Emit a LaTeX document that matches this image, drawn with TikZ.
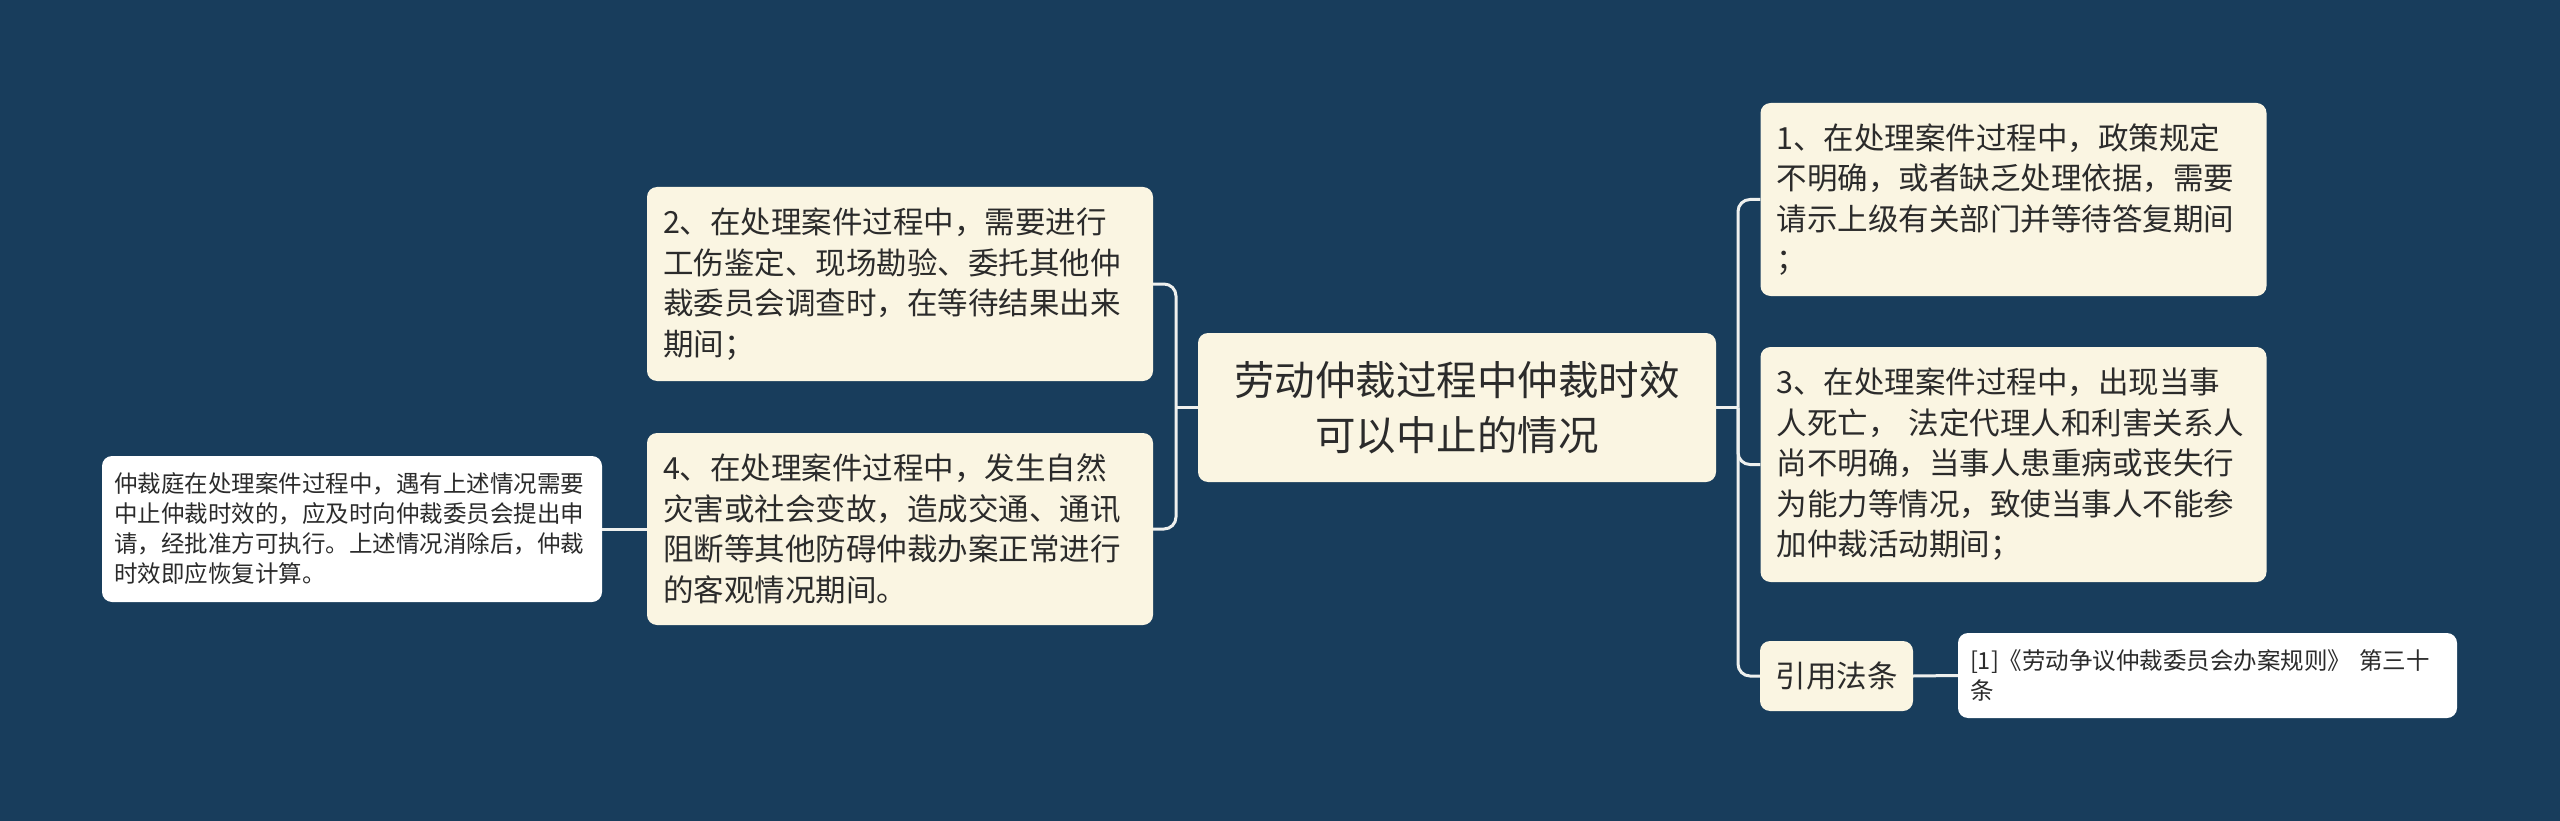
\documentclass[tikz,border=0pt]{standalone}
\usepackage{fontspec}
\setmainfont{Noto Sans CJK SC}
\definecolor{bg}{HTML}{183D5C}
\definecolor{cream}{HTML}{FAF5E2}
\definecolor{leaf}{HTML}{FFFFFF}
\definecolor{txt}{HTML}{2B2B2B}
\definecolor{wire}{HTML}{EEF0EE}
\tikzset{
  box/.style={fill=cream, draw=none, rounded corners=10pt, inner ysep=0pt, text=txt, anchor=center},
  mainbox/.style={box, inner xsep=16pt, text width=474pt, minimum width=506pt, align=left,
    font=\fontsize{30.5}{40.5}\selectfont},
  rootbox/.style={box, minimum width=518pt, minimum height=149pt, align=center,
    font=\fontsize{40.5}{55}\selectfont},
  leafbox/.style={box, fill=leaf, inner xsep=12pt, align=left,
    font=\fontsize{23.5}{30}\selectfont},
  tagbox/.style={box, minimum width=153pt, minimum height=70pt, align=center,
    font=\fontsize{30.5}{40.5}\selectfont},
  wirestyle/.style={draw=wire, line width=3pt, rounded corners=12pt},
}
\begin{document}
\begin{tikzpicture}[x=1pt,y=-1pt]
\fill[bg] (0,0) rectangle (2560,821);
\useasboundingbox (0,0) rectangle (2560,821);

\node[rootbox] (root) at (1457,407.5) {劳动仲裁过程中仲裁时效\\可以中止的情况};

\node[mainbox, minimum height=194pt] (n2) at (900,284) {2、在处理案件过程中，需要进行\\工伤鉴定、现场勘验、委托其他仲\\裁委员会调查时，在等待结果出来\\期间；};
\node[mainbox, minimum height=192pt] (n4) at (900,529) {4、在处理案件过程中，发生自然\\灾害或社会变故，造成交通、通讯\\阻断等其他防碍仲裁办案正常进行\\的客观情况期间。};
\node[leafbox, text width=476pt, minimum width=500pt, minimum height=146pt] (fl) at (352,529) {仲裁庭在处理案件过程中，遇有上述情况需要\\中止仲裁时效的，应及时向仲裁委员会提出申\\请，经批准方可执行。上述情况消除后，仲裁\\时效即应恢复计算。};

\node[mainbox, minimum height=193pt] (n1) at (2013.5,199.5) {1、在处理案件过程中，政策规定\\不明确，或者缺乏处理依据，需要\\请示上级有关部门并等待答复期间\\；};
\node[mainbox, minimum height=235pt] (n3) at (2013.5,464.5) {3、在处理案件过程中，出现当事\\人死亡， 法定代理人和利害关系人\\尚不明确，当事人患重病或丧失行\\为能力等情况，致使当事人不能参\\加仲裁活动期间；};
\node[tagbox] (law) at (1836.5,676) {引用法条};
\node[leafbox, text width=475pt, minimum width=499pt, minimum height=85pt] (ref) at (2207.5,675.5) {[1]《劳动争议仲裁委员会办案规则》 第三十\\条};

\coordinate (lx) at (1176,407.5);
\coordinate (rx) at (1738,407.5);

\draw[wirestyle] (root.west) -- (lx);
\draw[wirestyle] (n2.east) -| (lx) |- (n4.east);
\draw[wirestyle] (root.east) -- (rx);
\draw[wirestyle] (rx) |- (n1.west);
\draw[wirestyle] (rx) |- (n3.west);
\draw[wirestyle] (rx) |- (law.west);
\draw[wirestyle] (n4.west) -- (fl.east);
\draw[wirestyle] (law.east) -- (ref.west);
\end{tikzpicture}
\end{document}
